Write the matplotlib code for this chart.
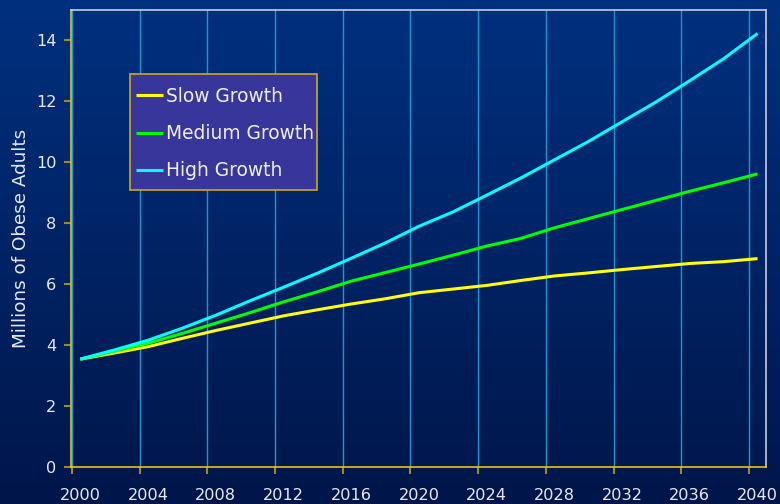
import numpy as np
import matplotlib
matplotlib.use("Agg")
import matplotlib.pyplot as plt
from matplotlib.colors import LinearSegmentedColormap
from matplotlib.patches import Rectangle

years = [2000, 2002, 2004, 2006, 2008, 2010, 2012, 2014, 2016, 2018, 2020,
         2022, 2024, 2026, 2028, 2030, 2032, 2034, 2036, 2038, 2040]
slow = [3.54, 3.74, 3.95, 4.22, 4.48, 4.72, 4.96, 5.16, 5.35, 5.52, 5.72,
        5.84, 5.96, 6.12, 6.27, 6.37, 6.48, 6.58, 6.68, 6.74, 6.84]
medium = [3.54, 3.80, 4.06, 4.38, 4.72, 5.06, 5.42, 5.75, 6.10, 6.38, 6.66,
          6.95, 7.25, 7.50, 7.85, 8.15, 8.45, 8.75, 9.05, 9.33, 9.62]
high = [3.54, 3.84, 4.16, 4.55, 4.98, 5.45, 5.90, 6.36, 6.85, 7.35, 7.90,
        8.37, 8.92, 9.48, 10.08, 10.68, 11.33, 11.98, 12.68, 13.40, 14.23]
series_names = ["Slow Growth", "Medium Growth", "High Growth"]
series_colors = ["#FFFF00", "#00FF00", "#00FFFF"]
xticks = list(range(2000, 2041, 4))
xticklabels = [str(v) for v in xticks]
yticks = list(range(0, 15, 2))

W, H = 780, 504
fig = plt.figure(figsize=(W / 100, H / 100), dpi=100)

# gradient background
bg = fig.add_axes([0, 0, 1, 1], zorder=-10)
cmap = LinearSegmentedColormap.from_list("bg", ["#00164A", "#00307F"])
grad = np.linspace(0, 1, 256).reshape(-1, 1)
bg.imshow(grad, aspect="auto", cmap=cmap, origin="lower", extent=[0, 1, 0, 1])
bg.set_xlim(0, 1)
bg.set_ylim(0, 1)
bg.set_axis_off()

ax = fig.add_axes([71 / W, 37 / H, 695 / W, 457 / H])
ax.patch.set_alpha(0)

x = np.array(years) + 0.5
for vals, name, col in zip([slow, medium, high], series_names, series_colors):
    ax.plot(x, vals, color=col, lw=2.2, label=name, zorder=3, solid_capstyle="butt")

ax.set_xlim(1999.95, 2041.0)
ax.set_ylim(0, 15)
# ticks at the years, labels centred half a year to the right
ax.set_xticks(xticks)
ax.set_xticklabels([])
ax.set_xticks([v + 0.5 for v in xticks], minor=True)
ax.set_xticklabels(xticklabels, minor=True)
ax.tick_params(axis="x", which="minor", length=0, pad=15,
               labelcolor="#E8E8F4", labelsize=11.6)
ax.set_yticks(yticks)
for xt in xticks:
    ax.axvline(xt, color="#1A9AD0", lw=1, zorder=1)

for s in ["left", "bottom"]:
    ax.spines[s].set_color("#E8C21A")
    ax.spines[s].set_linewidth(1.2)
for s in ["top", "right"]:
    ax.spines[s].set_color("#C8CCE0")
    ax.spines[s].set_linewidth(1.2)

ax.tick_params(axis="both", which="major", colors="#A08A20", length=5, width=1.5,
               labelcolor="#E8E8F4", labelsize=11.6)
ax.tick_params(axis="y", pad=5.5)
ax.set_ylabel("Millions of Obese Adults", color="#E8E8F4", fontsize=13.2, labelpad=4)

# legend box
box = Rectangle((130 / W, 1 - 190 / H), 187 / W, 116 / H, transform=fig.transFigure,
                facecolor="#38369A", edgecolor="#D0A820", lw=1.2, zorder=5)
fig.patches.append(box)

leg = fig.legend(loc="upper left", bbox_to_anchor=(136 / W, 1 - 87 / H),
                 fontsize=13.4, frameon=False, labelcolor="#F0F0F8",
                 handlelength=1.45, handletextpad=0.15, labelspacing=0.98,
                 borderpad=0, borderaxespad=0)
leg.set_zorder(6)

fig.savefig("out.png", dpi=100)
